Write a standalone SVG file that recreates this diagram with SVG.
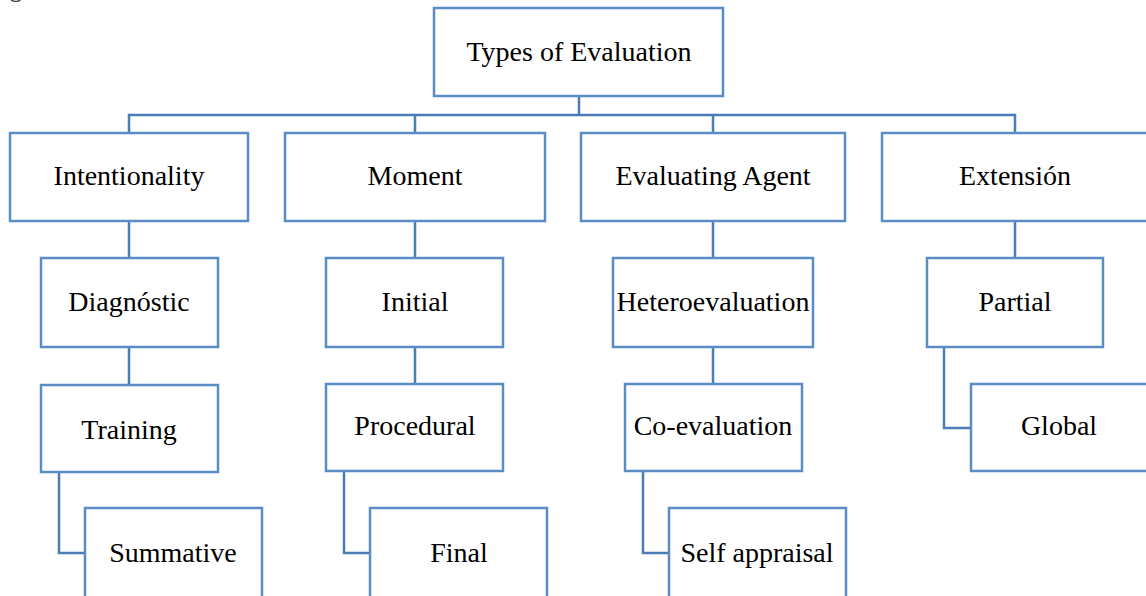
<svg xmlns="http://www.w3.org/2000/svg" width="1146" height="596" viewBox="0 0 1146 596">
<style>
.box{fill:#fff;stroke:#5A8CC6;stroke-width:2.5}
.lbl{font-family:"Liberation Serif","Times New Roman",serif;font-size:28px;fill:#000;text-anchor:middle}
.con{fill:none;stroke:#4A7DB5;stroke-width:2.5}
</style>
<rect width="1146" height="596" fill="#fff"/>
<text x="10" y="-3" font-family="Liberation Serif, serif" font-size="24" font-weight="bold" fill="#444">g</text>
<g id="connectors" class="con">
<path d="M579,96V115M129,133V115H1015V133M415,115V133M713,115V133"/>
<path d="M129,221V258M129,347V385M59,472V553H85"/>
<path d="M415,221V258M415,347V384M344,471V553H370"/>
<path d="M713,221V258M713,347V384M643,471V553H669"/>
<path d="M1015,221V258M944,347V428H971"/>
</g>
<g id="n-root"><rect class="box" x="434" y="8" width="289" height="88"/><text class="lbl" x="579" y="61">Types of Evaluation</text></g>
<g id="n-intentionality"><rect class="box" x="10" y="133" width="238" height="88"/><text class="lbl" x="129" y="185">Intentionality</text></g>
<g id="n-moment"><rect class="box" x="285" y="133" width="260" height="88"/><text class="lbl" x="415" y="185">Moment</text></g>
<g id="n-agent"><rect class="box" x="581" y="133" width="264" height="88"/><text class="lbl" x="713" y="185">Evaluating Agent</text></g>
<g id="n-extension"><rect class="box" x="882" y="133" width="266" height="88"/><text class="lbl" x="1015" y="185">Extensión</text></g>
<g id="n-diagnostic"><rect class="box" x="41" y="258" width="177" height="89"/><text class="lbl" x="129" y="311">Diagnóstic</text></g>
<g id="n-training"><rect class="box" x="41" y="385" width="177" height="87"/><text class="lbl" x="129" y="439">Training</text></g>
<g id="n-summative"><rect class="box" x="85" y="508" width="177" height="100"/><text class="lbl" x="173" y="562">Summative</text></g>
<g id="n-initial"><rect class="box" x="326" y="258" width="177" height="89"/><text class="lbl" x="415" y="311">Initial</text></g>
<g id="n-procedural"><rect class="box" x="326" y="384" width="177" height="87"/><text class="lbl" x="415" y="435">Procedural</text></g>
<g id="n-final"><rect class="box" x="370" y="508" width="177" height="100"/><text class="lbl" x="459" y="562">Final</text></g>
<g id="n-hetero"><rect class="box" x="613" y="258" width="200" height="89"/><text class="lbl" x="713" y="311">Heteroevaluation</text></g>
<g id="n-coeval"><rect class="box" x="625" y="384" width="177" height="87"/><text class="lbl" x="713" y="435">Co-evaluation</text></g>
<g id="n-self"><rect class="box" x="669" y="508" width="177" height="100"/><text class="lbl" x="757" y="562">Self appraisal</text></g>
<g id="n-partial"><rect class="box" x="927" y="258" width="176" height="89"/><text class="lbl" x="1015" y="311">Partial</text></g>
<g id="n-global"><rect class="box" x="971" y="384" width="177" height="87"/><text class="lbl" x="1059" y="435">Global</text></g>
</svg>
